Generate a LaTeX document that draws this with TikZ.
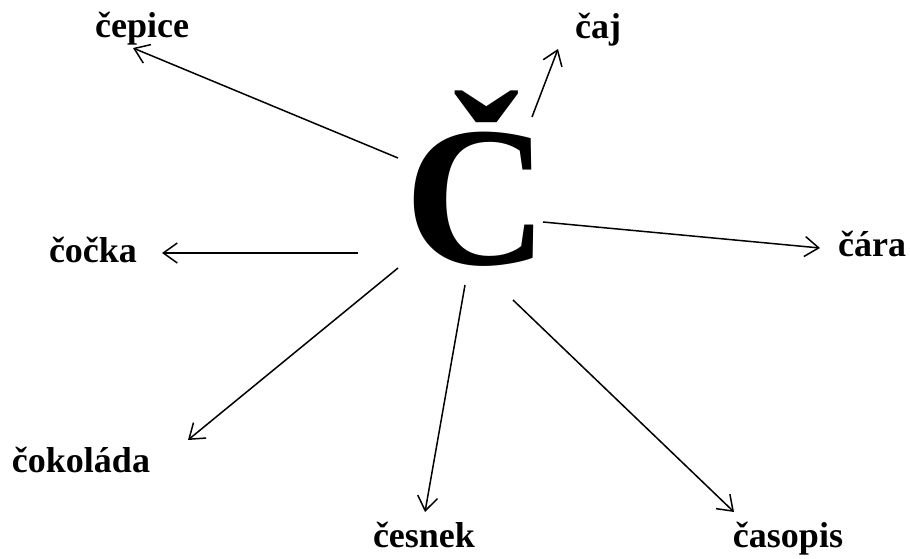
\documentclass[tikz,border=0pt]{standalone}
\usepackage{fontspec}
\setmainfont{Liberation Serif}
\usetikzlibrary{arrows.meta}

\begin{document}
\begin{tikzpicture}[x=1pt, y=-1pt,
                    wordnode/.style={anchor=base, inner sep=0pt, font=\fontsize{36}{36}\selectfont\bfseries},
                    bignode/.style={anchor=base, inner sep=0pt, font=\fontsize{200}{200}\selectfont\bfseries},
                    ray/.style={-{Straight Barb[length=14pt, width=20pt]}, line width=1.5pt},]
    \useasboundingbox (0,0) rectangle (910,559);
    % nodes
    \node[bignode]   (C)        at (477,264)  {Č};
    \node[wordnode]  (cepice)   at (142,38)   {čepice};
    \node[wordnode]  (caj)      at (598,39)   {čaj};
    \node[wordnode]  (cara)     at (872,256)  {čára};
    \node[wordnode]  (cocka)    at (93,262)   {čočka};
    \node[wordnode]  (cokolada) at (81,472)   {čokoláda};
    \node[wordnode]  (cesnek)   at (424,547)  {česnek};
    \node[wordnode]  (casopis)  at (788,547)  {časopis};
    % ends of the lines
    \coordinate (s-cepice)   at (398,158);
    \coordinate (s-caj)      at (532,117);
    \coordinate (s-cara)     at (543,222);
    \coordinate (s-cocka)    at (358,253);
    \coordinate (s-cokolada) at (398,268);
    \coordinate (s-cesnek)   at (465,285);
    \coordinate (s-casopis)  at (513,300);
    \coordinate (t-cepice)   at (133,48);
    \coordinate (t-caj)      at (558,49);
    \coordinate (t-cara)     at (820,248);
    \coordinate (t-cocka)    at (162,253);
    \coordinate (t-cokolada) at (188,440);
    \coordinate (t-cesnek)   at (425,512);
    \coordinate (t-casopis)  at (734,512);
    % lines
    \foreach \w in {cepice, caj, cara, cocka, cokolada, cesnek, casopis}
        \draw[ray] (s-\w) -- (t-\w);
\end{tikzpicture}
\end{document}
